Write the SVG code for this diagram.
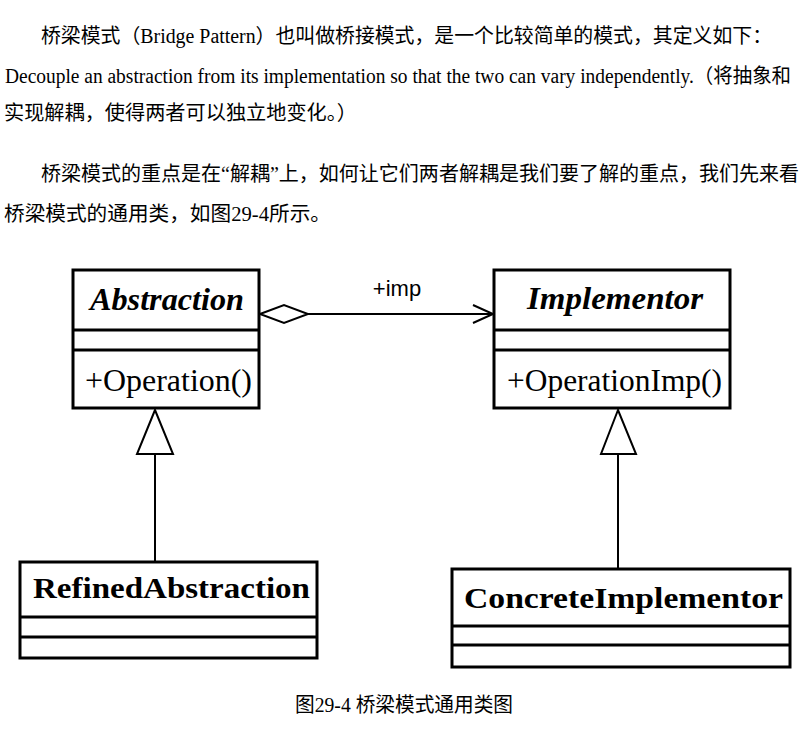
<svg xmlns="http://www.w3.org/2000/svg" width="807" height="732" viewBox="0 0 807 732">
<style>
.p{font-family:"Liberation Serif","Noto Sans CJK SC",serif;font-size:20px;fill:#000}
.box{fill:#fff;stroke:#000;stroke-width:3}
.sep{stroke:#000;stroke-width:3}
.ti{font-family:"Liberation Serif",serif;font-weight:bold;font-style:italic;font-size:31px;text-anchor:middle}
.tb{font-family:"Liberation Serif",serif;font-weight:bold;font-size:30px}
.op{font-family:"Liberation Serif",serif;font-size:31px}
.ln{fill:none;stroke:#000;stroke-width:2}
</style>
<rect width="807" height="732" fill="#fff"/>
<g id="text">
<text class="p" x="41" y="43" textLength="731" lengthAdjust="spacingAndGlyphs">桥梁模式（Bridge Pattern）也叫做桥接模式，是一个比较简单的模式，其定义如下：</text>
<text class="p" x="5" y="83" font-size="18" textLength="786" lengthAdjust="spacingAndGlyphs">Decouple an abstraction from its implementation so that the two can vary independently.（将抽象和</text>
<text class="p" x="4" y="120" textLength="353" lengthAdjust="spacingAndGlyphs">实现解耦，使得两者可以独立地变化。）</text>
<text class="p" x="41" y="181" textLength="758" lengthAdjust="spacingAndGlyphs">桥梁模式的重点是在“解耦”上，如何让它们两者解耦是我们要了解的重点，我们先来看</text>
<text class="p" x="4" y="221" textLength="327" lengthAdjust="spacingAndGlyphs">桥梁模式的通用类，如图29-4所示。</text>
<text class="p" x="295" y="712" font-size="19" textLength="218" lengthAdjust="spacingAndGlyphs">图29-4 桥梁模式通用类图</text>
</g>
<g id="connectors">
<line class="ln" x1="308" y1="314" x2="493" y2="314"/>
<polygon points="260,314 284,305 308,314 284,323" fill="#fff" stroke="#000" stroke-width="2"/>
<polyline class="ln" points="473,305 493,314 473,323"/>
<text x="397" y="296" font-family="Liberation Sans,sans-serif" font-size="22" text-anchor="middle">+imp</text>
<line class="ln" x1="155" y1="454" x2="155" y2="561"/>
<polygon points="155,410 137,454 173,454" fill="#fff" stroke="#000" stroke-width="2"/>
<line class="ln" x1="618" y1="454" x2="618" y2="568"/>
<polygon points="618,410 601,454 636,454" fill="#fff" stroke="#000" stroke-width="2"/>
</g>
<g id="Abstraction">
<rect class="box" x="73" y="270" width="186" height="138"/>
<line class="sep" x1="73" y1="330" x2="259" y2="330"/>
<line class="sep" x1="73" y1="350" x2="259" y2="350"/>
<text class="ti" x="167" y="310" textLength="154" lengthAdjust="spacingAndGlyphs">Abstraction</text>
<text class="op" x="85" y="391" textLength="167" lengthAdjust="spacingAndGlyphs">+Operation()</text>
</g>
<g id="Implementor">
<rect class="box" x="494" y="270" width="236" height="138"/>
<line class="sep" x1="494" y1="330" x2="730" y2="330"/>
<line class="sep" x1="494" y1="350" x2="730" y2="350"/>
<text class="ti" x="615" y="309" textLength="176" lengthAdjust="spacingAndGlyphs">Implementor</text>
<text class="op" x="507" y="391" textLength="215" lengthAdjust="spacingAndGlyphs">+OperationImp()</text>
</g>
<g id="RefinedAbstraction">
<rect class="box" x="20" y="562" width="297" height="96"/>
<line class="sep" x1="20" y1="617" x2="317" y2="617"/>
<line class="sep" x1="20" y1="637" x2="317" y2="637"/>
<text class="tb" x="33" y="598" textLength="277" lengthAdjust="spacingAndGlyphs">RefinedAbstraction</text>
</g>
<g id="ConcreteImplementor">
<rect class="box" x="452" y="569" width="338" height="98"/>
<line class="sep" x1="452" y1="626" x2="790" y2="626"/>
<line class="sep" x1="452" y1="645" x2="790" y2="645"/>
<text class="tb" x="464" y="608" textLength="319" lengthAdjust="spacingAndGlyphs">ConcreteImplementor</text>
</g>
</svg>
